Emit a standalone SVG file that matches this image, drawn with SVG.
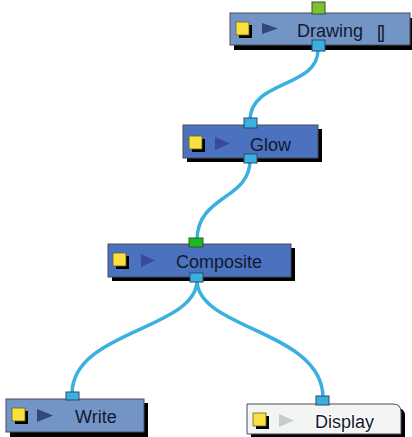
<svg xmlns="http://www.w3.org/2000/svg" width="412" height="437" viewBox="0 0 412 437">
<style>
.shadow{fill:#000}
.box{stroke:#4a4a5a;stroke-width:1}
.dark{fill:#7395c6}
.mid{fill:#4a72bf}
.light{fill:#f2f5f2}
.sq{fill:#f8e040;stroke:#6a6020;stroke-width:0.8}
.sqs{fill:#000}
.tri{fill:#30487a}
.tri2{fill:#3a4a98}
.tri3{fill:#c4cccc}
.lbl{font-family:"Liberation Sans",Arial,sans-serif;font-size:18px;fill:#141830}
.port{fill:#3ab0e0;stroke:#2a4a66;stroke-width:1}
.gport{stroke:#2a5a2a;stroke-width:1}
.wire{fill:none;stroke:#3ab0e0;stroke-width:3.5;stroke-linecap:round}
</style>
<g id="connectors">
<path class="wire" d="M318,50 C318,88 250,80 250,120"/>
<path class="wire" d="M250,160 C250,200 197,195 197,240"/>
<path class="wire" d="M197,280 C197,330 72,330 72,394"/>
<path class="wire" d="M197,280 C197,330 323,330 323,398"/>
</g>
<g id="drawing">
<rect class="shadow" x="234" y="18" width="180" height="32"/>
<rect class="box dark" x="230" y="13" width="180" height="32"/>
<rect class="sqs" x="239" y="25" width="13" height="13"/>
<rect class="sq" x="236" y="22" width="13" height="13"/>
<polygon class="tri" points="262,23 278,28.5 262,34"/>
<text class="lbl" x="297" y="37">Drawing</text>
<text class="lbl" x="377" y="38" letter-spacing="-2">[]</text>
<rect class="gport" fill="#80c030" x="312" y="2" width="13" height="12"/>
<rect class="port" x="312" y="40" width="13" height="11"/>
</g>
<g id="glow">
<rect class="shadow" x="187" y="129" width="135" height="33"/>
<rect class="box mid" x="183" y="125" width="135" height="33"/>
<rect class="sqs" x="192" y="139" width="13" height="13"/>
<rect class="sq" x="189" y="136" width="13" height="13"/>
<polygon class="tri2" points="215,137 230,143.5 215,150"/>
<text class="lbl" x="250" y="151">Glow</text>
<rect class="port" x="244" y="118" width="13" height="10"/>
<rect class="port" x="244" y="154" width="13" height="9"/>
</g>
<g id="composite">
<rect class="shadow" x="112" y="248" width="183" height="33"/>
<rect class="box mid" x="108" y="244" width="183" height="33"/>
<rect class="sqs" x="116" y="256" width="13" height="13"/>
<rect class="sq" x="113" y="253" width="13" height="13"/>
<polygon class="tri2" points="141,254 155,260.5 141,267"/>
<text class="lbl" x="176" y="268">Composite</text>
<rect class="gport" fill="#20b820" x="189" y="238" width="14" height="9"/>
<rect class="port" x="190" y="273" width="13" height="9"/>
</g>
<g id="write">
<rect class="shadow" x="10" y="403" width="138" height="34"/>
<rect class="box dark" x="6" y="399" width="138" height="33"/>
<rect class="sqs" x="15" y="411" width="13" height="13"/>
<rect class="sq" x="12" y="408" width="13" height="13"/>
<polygon class="tri" points="37,409 53,415.5 37,422"/>
<text class="lbl" x="75" y="423">Write</text>
<rect class="port" x="66" y="392" width="13" height="8"/>
</g>
<g id="display">
<path class="shadow" d="M251,408 H397 Q405,408 405,416 V438 H251 Z"/>
<path class="box light" d="M247,404 H393 Q401,404 401,412 V434 H247 Z"/>
<rect class="sqs" x="256" y="416" width="13" height="13"/>
<rect class="sq" x="253" y="413" width="13" height="13"/>
<polygon class="tri3" points="279,414 294,420.5 279,427"/>
<text class="lbl" x="315" y="428" stroke="#ffffff" stroke-width="2" paint-order="stroke">Display</text>
<rect class="port" x="316" y="396" width="13" height="9"/>
</g>
</svg>
